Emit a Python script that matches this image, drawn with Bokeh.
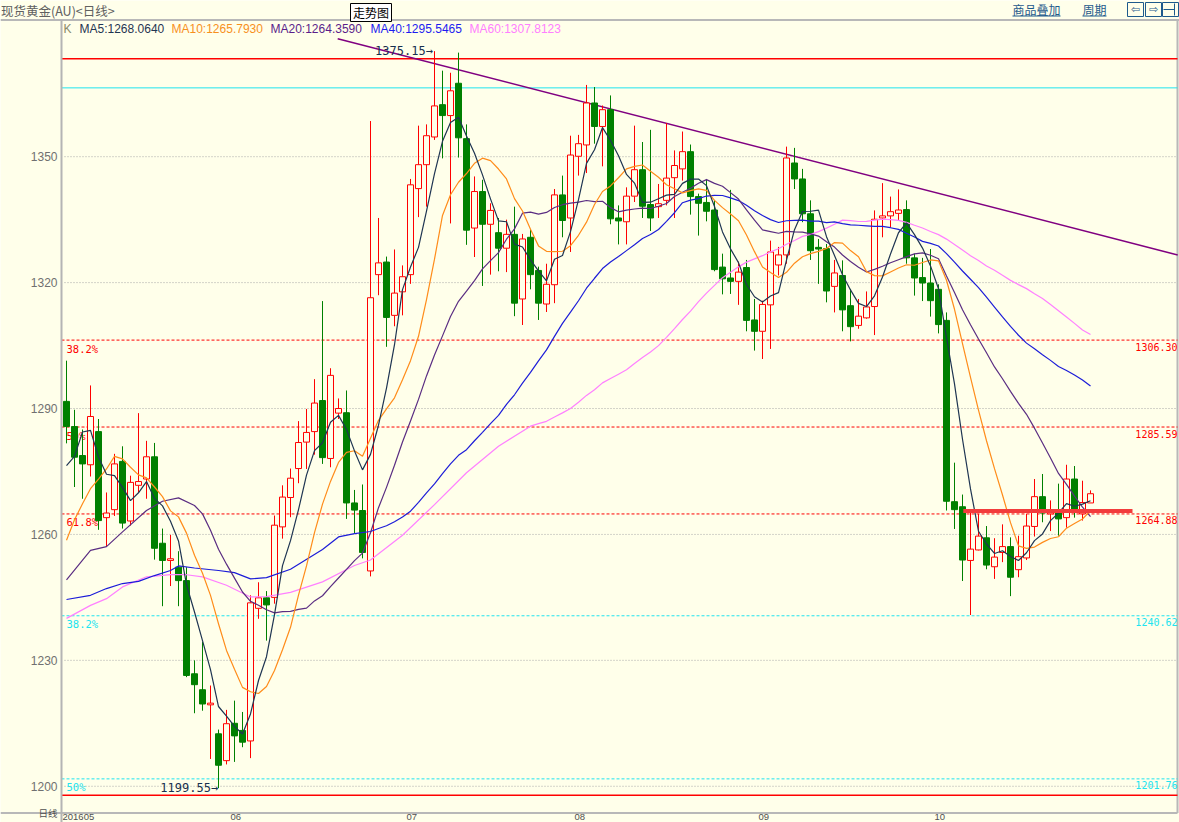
import numpy as np
from bokeh.plotting import figure
from bokeh.models import ColumnDataSource, Range1d, Label, FixedTicker
from bokeh.embed import file_html
from bokeh.resources import INLINE
from bokeh.core.properties import value

# ---------------- data ----------------
opens = [1291.7, 1285.7, 1278.8, 1276.6, 1284.5, 1264.0, 1265.9, 1277.4, 1263.2, 1271.7,
         1273.2, 1278.5, 1257.9, 1253.8, 1252.2, 1249.0, 1226.8, 1223.0, 1219.4, 1212.5,
         1206.1, 1215.0, 1213.3, 1210.8, 1242.4, 1244.9, 1245.0, 1261.8, 1268.8, 1275.7,
         1282.0, 1284.5, 1291.9, 1278.1, 1288.9, 1289.0, 1267.5, 1265.7, 1251.3, 1321.9,
         1324.9, 1312.2, 1317.8, 1321.9, 1342.4, 1348.1, 1354.7, 1362.4, 1359.8, 1367.5,
         1354.3, 1333.0, 1341.7, 1333.9, 1331.9, 1328.2, 1331.5, 1316.1, 1330.8, 1322.9,
         1314.9, 1319.5, 1340.9, 1335.4, 1350.1, 1352.8, 1362.8, 1357.2, 1361.2, 1335.4,
         1334.5, 1340.6, 1346.9, 1338.6, 1338.1, 1339.6, 1345.0, 1347.1, 1351.2, 1340.5,
         1339.1, 1337.3, 1323.7, 1321.1, 1320.3, 1323.6, 1311.1, 1308.4, 1314.7, 1324.2,
         1326.6, 1348.5, 1344.7, 1336.4, 1328.4, 1328.1, 1319.1, 1321.7, 1314.5, 1309.8,
         1311.6, 1314.3, 1335.4, 1335.9, 1336.5, 1337.4, 1325.9, 1321.2, 1319.9, 1318.4,
         1311.0, 1267.8, 1266.6, 1253.8, 1256.3, 1259.2, 1252.3, 1255.7, 1257.1, 1251.6,
         1254.4, 1261.9, 1269.0, 1264.9, 1265.7, 1264.0, 1273.2, 1264.9, 1267.5]
highs = [1301.4, 1289.7, 1285.0, 1295.5, 1287.5, 1270.0, 1279.2, 1281.0, 1274.0, 1288.9,
         1282.3, 1281.8, 1261.4, 1259.9, 1256.0, 1252.2, 1230.0, 1234.4, 1224.0, 1213.5,
         1218.2, 1220.4, 1217.7, 1245.5, 1248.6, 1246.5, 1264.5, 1271.7, 1275.7, 1287.0,
         1289.9, 1297.0, 1315.6, 1299.6, 1292.4, 1294.3, 1270.6, 1271.9, 1358.5, 1335.4,
         1326.2, 1327.9, 1324.1, 1344.7, 1357.4, 1357.7, 1375.15, 1370.5, 1370.0, 1374.8,
         1357.7, 1345.3, 1344.5, 1338.9, 1335.4, 1335.0, 1338.1, 1331.6, 1332.7, 1323.8,
         1324.5, 1342.3, 1345.5, 1355.0, 1355.2, 1367.1, 1366.6, 1362.2, 1364.6, 1338.4,
         1342.7, 1357.4, 1353.5, 1356.4, 1343.5, 1358.0, 1351.5, 1356.0, 1352.9, 1341.2,
         1344.7, 1339.6, 1326.9, 1342.1, 1325.0, 1325.4, 1316.1, 1315.7, 1330.0, 1328.5,
         1352.4, 1352.1, 1347.1, 1339.6, 1330.4, 1329.2, 1325.4, 1325.3, 1318.5, 1316.1,
         1317.9, 1337.2, 1343.7, 1340.5, 1342.2, 1339.6, 1326.9, 1325.9, 1328.0, 1319.6,
         1312.9, 1277.1, 1269.5, 1265.1, 1264.9, 1262.0, 1259.1, 1262.4, 1259.3, 1259.7,
         1264.9, 1273.2, 1274.4, 1268.1, 1272.1, 1276.6, 1276.3, 1272.8, 1270.5]
lows = [1281.7, 1271.3, 1268.5, 1273.8, 1261.1, 1257.0, 1264.4, 1261.4, 1262.1, 1270.0,
        1268.5, 1254.0, 1242.9, 1247.7, 1242.9, 1226.0, 1217.4, 1218.0, 1206.5, 1199.55,
        1205.2, 1205.8, 1209.3, 1206.7, 1239.9, 1234.7, 1243.5, 1259.0, 1264.1, 1272.2,
        1275.6, 1279.0, 1276.8, 1276.0, 1287.5, 1263.7, 1260.3, 1254.3, 1250.0, 1317.0,
        1304.7, 1309.6, 1312.2, 1319.7, 1335.6, 1338.1, 1354.0, 1349.6, 1334.1, 1349.8,
        1329.0, 1326.1, 1319.2, 1321.9, 1322.7, 1322.5, 1312.0, 1309.9, 1318.4, 1311.1,
        1313.0, 1315.1, 1330.8, 1327.3, 1345.5, 1346.1, 1353.1, 1347.7, 1333.9, 1329.1,
        1329.1, 1339.2, 1335.4, 1332.3, 1335.4, 1338.4, 1335.4, 1344.3, 1336.2, 1331.2,
        1334.6, 1322.7, 1317.2, 1317.3, 1314.7, 1308.4, 1303.8, 1301.8, 1304.2, 1321.7,
        1324.5, 1342.3, 1334.4, 1325.4, 1319.7, 1315.3, 1312.9, 1308.4, 1306.0, 1309.0,
        1311.4, 1307.5, 1330.8, 1333.2, 1334.8, 1324.5, 1316.9, 1315.6, 1311.9, 1307.9,
        1265.7, 1261.3, 1248.9, 1240.8, 1256.2, 1251.7, 1249.4, 1253.4, 1245.3, 1249.8,
        1253.9, 1259.5, 1262.9, 1260.8, 1259.7, 1261.6, 1264.0, 1263.3, 1267.5]
closes = [1285.7, 1278.4, 1276.8, 1288.1, 1263.3, 1265.1, 1276.8, 1262.7, 1272.4, 1272.6,
          1278.5, 1256.7, 1253.8, 1254.2, 1249.0, 1226.4, 1224.2, 1219.6, 1219.8, 1205.0,
          1214.9, 1212.0, 1210.5, 1243.7, 1244.9, 1243.2, 1262.2, 1268.9, 1273.4, 1281.9,
          1284.3, 1291.3, 1278.3, 1297.9, 1290.0, 1267.5, 1265.8, 1255.7, 1316.4, 1324.7,
          1311.7, 1317.5, 1321.4, 1343.3, 1348.1, 1355.0, 1362.1, 1359.8, 1365.7, 1354.5,
          1332.5, 1341.7, 1333.9, 1337.2, 1328.2, 1331.5, 1315.1, 1330.4, 1321.9, 1315.1,
          1319.6, 1340.9, 1334.8, 1350.4, 1353.1, 1362.8, 1357.2, 1361.2, 1335.2, 1334.7,
          1340.6, 1346.9, 1338.2, 1335.4, 1338.8, 1344.9, 1347.9, 1351.2, 1340.5, 1338.9,
          1337.0, 1323.1, 1320.9, 1320.3, 1322.5, 1311.0, 1308.4, 1314.8, 1327.3, 1326.6,
          1349.7, 1344.7, 1336.4, 1327.6, 1328.0, 1318.0, 1322.3, 1313.5, 1309.5, 1312.0,
          1314.2, 1335.1, 1335.9, 1336.9, 1337.3, 1325.9, 1321.1, 1319.9, 1315.7, 1310.0,
          1267.9, 1265.9, 1253.9, 1256.5, 1259.6, 1252.7, 1254.6, 1257.1, 1249.8, 1254.7,
          1262.0, 1269.0, 1265.1, 1265.7, 1263.7, 1273.2, 1265.9, 1267.6, 1269.7]

ma5_head_k = [0, 1, 2, 3]
ma5_head_v = [1276.4, 1278.6, 1284.4, 1284.8]
ma10_head_k = [0, 1, 2, 3, 4, 5, 6, 7, 8]
ma10_head_v = [1258.6, 1263.5, 1267.3, 1270.9, 1273.2, 1275.6, 1278.6, 1278.0, 1276.0]
ma20_head_k = [0, 3, 5, 7, 10, 12, 14, 16, 17, 18]
ma20_head_v = [1249.2, 1256.2, 1257.1, 1260.6, 1265.7, 1267.9, 1268.7, 1266.9, 1264.9, 1261.0]
ma40_head_k = [0, 3, 5, 7, 9, 11, 13, 14, 16, 19, 21, 23, 25, 28, 32, 34, 36, 38]
ma40_head_v = [1244.5, 1245.5, 1247.1, 1248.3, 1248.8, 1250.2, 1251.4, 1252.5, 1252.0, 1251.4,
               1250.9, 1249.4, 1249.7, 1251.7, 1256.4, 1259.4, 1260.2, 1260.7]
ma60_head_k = [0, 3, 5, 7, 10, 13, 15, 17, 20, 23, 25, 28, 32, 36, 38, 42, 46, 50, 54, 58]
ma60_head_v = [1240.0, 1243.1, 1244.7, 1247.5, 1249.9, 1250.4, 1250.4, 1249.9, 1247.9, 1245.1,
               1245.2, 1246.2, 1248.7, 1252.6, 1253.9, 1259.8, 1267.1, 1274.7, 1281.0, 1285.8]

month_start_idx = [0, 21, 43, 64, 87, 109]
month_labels = ["201605", "06", "07", "08", "09", "10"]
price_ticks = [1200, 1230, 1260, 1290, 1320, 1350]

fib_red_zero, fib_red_full = 1373.35, 1197.85
fib_red_levels = [1306.30, 1285.59, 1264.88]
fib_red_names = ["38.2%", "50%", "61.8%"]
fib_cyan_zero = 1366.4
fib_cyan_levels = [1240.62, 1201.76]
fib_cyan_names = ["38.2%", "50%"]

trend_k = [33.9, 138.9]
trend_p = [1378.1, 1326.6]
support_k = [112.1, 133.25]
support_p = [1265.6, 1265.6]

hi_idx, hi_val = 46, 1375.15
lo_idx, lo_val = 19, 1199.55

ma_header = [("K", "#8a8a6a"), ("MA5:1268.0640", "#1f3552"), ("MA10:1265.7930", "#f7901e"),
             ("MA20:1264.3590", "#5a1e8a"), ("MA40:1295.5465", "#1c1cf0"),
             ("MA60:1307.8123", "#ff80ff")]

# ---------------- geometry helpers (reference pixel -> data) ----------------
X0_PX, PX_PER_BAR = 66.0, 8.0
Y_REF_PX, Y_REF_P, PX_PER_USD = 156.2, 1350.0, 4.197
W, H = 1179, 822


def kx(px):
    return (px - X0_PX) / PX_PER_BAR


def py(px):
    return Y_REF_P - (px - Y_REF_PX) / PX_PER_USD


BG = "#ffffea"
RED = "#ff0000"
GREEN = "#008000"
CYAN = "#20e4f0"
NAVY = "#17304f"

p = figure(width=W, height=H,
           x_range=Range1d(kx(0), kx(W)), y_range=Range1d(py(H), py(0)),
           output_backend="svg", toolbar_location=None, x_axis_location=None,
           min_border=0, background_fill_color=BG, border_fill_color=BG,
           outline_line_color=None)
p.grid.visible = False

# left price axis
ax = p.yaxis[0]
ax.fixed_location = kx(61)
ax.ticker = FixedTicker(ticks=price_ticks)
ax.bounds = (py(H), py(19))
ax.axis_line_color = "#b4b4b4"
ax.axis_line_width = 2
ax.major_tick_line_color = None
ax.major_tick_out = 0
ax.major_tick_in = 0
ax.minor_tick_line_color = None
ax.major_label_standoff = 4
ax.major_label_text_font = "Liberation Sans"
ax.major_label_text_font_size = "12px"
ax.major_label_text_color = "#707070"

x_left, x_right = kx(61), kx(1177)

# frame lines: header separator, bottom axis line, right border
p.segment(x0=[kx(0)], y0=[py(19.5)], x1=[kx(W)], y1=[py(19.5)], line_color="#b8b8b8", line_width=2)
p.segment(x0=[kx(0)], y0=[py(812.5)], x1=[x_right], y1=[py(812.5)], line_color="#b8b8b8", line_width=2)
p.segment(x0=[x_right], y0=[py(19.5)], x1=[x_right], y1=[py(812.5)], line_color="#b8b8b8", line_width=2)

# dotted price grid
p.segment(x0=[kx(64)] * len(price_ticks), y0=price_ticks, x1=[x_right] * len(price_ticks),
          y1=price_ticks, line_color="#a8a8a8", line_dash="1 2", line_width=1)

# fibonacci levels
p.segment(x0=[x_left] * 2, y0=[fib_red_zero, fib_red_full], x1=[x_right] * 2,
          y1=[fib_red_zero, fib_red_full], line_color=RED, line_width=1.5)
p.segment(x0=[x_left], y0=[fib_cyan_zero], x1=[x_right], y1=[fib_cyan_zero], line_color=CYAN, line_width=1)
p.segment(x0=[x_left] * 3, y0=fib_red_levels, x1=[x_right] * 3, y1=fib_red_levels,
          line_color=RED, line_dash="3 2", line_width=1)
p.segment(x0=[x_left] * 2, y0=fib_cyan_levels, x1=[x_right] * 2, y1=fib_cyan_levels,
          line_color=CYAN, line_dash="3 2", line_width=1)

lbl_drop = 2.5 / PX_PER_USD
p.text(x=[kx(66)] * 3, y=[v - lbl_drop for v in fib_red_levels], text=fib_red_names,
       text_color=RED, text_font=value("DejaVu Sans Mono"), text_font_size="10.5px",
       text_baseline="top", text_align="left")
p.text(x=[kx(1177)] * 3, y=[v - lbl_drop for v in fib_red_levels],
       text=["%.2f" % v for v in fib_red_levels], text_color=RED,
       text_font=value("DejaVu Sans Mono"), text_font_size="10px",
       text_baseline="top", text_align="right")
p.text(x=[kx(66)] * 2, y=[v - lbl_drop for v in fib_cyan_levels], text=fib_cyan_names,
       text_color=CYAN, text_font=value("DejaVu Sans Mono"), text_font_size="10.5px",
       text_baseline="top", text_align="left")
p.text(x=[kx(1177)] * 2, y=[v - lbl_drop for v in fib_cyan_levels],
       text=["%.2f" % v for v in fib_cyan_levels], text_color=CYAN,
       text_font=value("DejaVu Sans Mono"), text_font_size="10px",
       text_baseline="top", text_align="right")

# trend line
p.line(trend_k, trend_p, line_color="#800080", line_width=1.5)

# candles
idx = np.arange(len(closes))
o, h, l, c = (np.array(a) for a in (opens, highs, lows, closes))
up = c >= o
top = np.maximum(o, c)
bot = np.minimum(o, c)
dn_src = ColumnDataSource(dict(x=idx[~up], h=h[~up], l=l[~up], t=top[~up], b=bot[~up]))
up_src = ColumnDataSource(dict(x=idx[up], h=h[up], l=l[up], t=top[up], b=bot[up]))
BW = 0.75
p.segment(x0="x", y0="h", x1="x", y1="l", source=dn_src, line_color=GREEN, line_width=1)
p.vbar(x="x", width=BW, top="t", bottom="b", source=dn_src, fill_color=GREEN, line_color=GREEN, line_width=1)
p.segment(x0="x", y0="h", x1="x", y1="t", source=up_src, line_color=RED, line_width=1)
p.segment(x0="x", y0="b", x1="x", y1="l", source=up_src, line_color=RED, line_width=1)
p.vbar(x="x", width=BW, top="t", bottom="b", source=up_src, fill_color=BG, line_color=RED, line_width=1)


# moving averages
def sma_series(n, head_k, head_v):
    ks = list(head_k)
    vs = list(head_v)
    for i in range(n - 1, len(closes)):
        ks.append(i)
        vs.append(float(np.mean(c[i - n + 1:i + 1])))
    return ks, vs


for n, hk, hv, col in [(60, ma60_head_k, ma60_head_v, "#ff80ff"),
                       (40, ma40_head_k, ma40_head_v, "#1c1cd8"),
                       (20, ma20_head_k, ma20_head_v, "#5a2d82"),
                       (10, ma10_head_k, ma10_head_v, "#ff8c1a"),
                       (5, ma5_head_k, ma5_head_v, "#1f3552")]:
    ks, vs = sma_series(n, hk, hv)
    p.line(ks, vs, line_color=col, line_width=1.2)

# support line
p.line(support_k, support_p, line_color="#f23c3c", line_width=4)

# extreme markers
p.text(x=[hi_idx - 0.2], y=[hi_val], text=["%.2f→" % hi_val], text_color=NAVY,
       text_font=value("DejaVu Sans Mono"), text_font_size="12px",
       text_baseline="middle", text_align="right")
p.text(x=[lo_idx - 0.05], y=[lo_val], text=["%.2f→" % lo_val], text_color=NAVY,
       text_font=value("DejaVu Sans Mono"), text_font_size="12px",
       text_baseline="middle", text_align="right")

# bottom date labels
p.text(x=[i - 0.5 for i in month_start_idx], y=[py(819.5)] * len(month_start_idx), text=month_labels,
       text_color="#505050", text_font=value("Liberation Sans"), text_font_size="9.5px",
       text_baseline="bottom", text_align="left")
p.add_layout(Label(x=kx(57), y=py(819.5), text="日线", text_color="#505050",
                   text_font="Noto Sans CJK SC", text_font_size="9.5px",
                   text_baseline="bottom", text_align="right"))

# MA legend row
hdr_x = [63, 79, 171, 270, 370, 469]
for (txt, col), xx in zip(ma_header, hdr_x):
    p.add_layout(Label(x=kx(xx), y=py(28), text=txt, text_color=col,
                       text_font="Liberation Sans", text_font_size="12px",
                       text_baseline="middle", text_align="left"))

# header strip
p.add_layout(Label(x=kx(0.5), y=py(10), text="现货黄金(AU)<日线>", text_color="#606060",
                   text_font="Noto Sans CJK SC", text_font_size="12.5px",
                   text_baseline="middle", text_align="left"))
p.quad(left=[kx(350)], right=[kx(391)], top=[py(3)], bottom=[py(21)],
       fill_color="white", line_color="black", line_width=1)
p.add_layout(Label(x=kx(370.5), y=py(12), text="走势图", text_color="black",
                   text_font="Noto Sans CJK SC", text_font_size="12px",
                   text_baseline="middle", text_align="center"))
LINK = "#1e5a8c"
for txt, x_a, x_b in [("商品叠加", 1012, 1060), ("周期", 1082, 1106)]:
    p.add_layout(Label(x=kx(x_a), y=py(8.5), text=txt, text_color=LINK,
                       text_font="Noto Sans CJK SC", text_font_size="12px",
                       text_baseline="middle", text_align="left"))
    p.segment(x0=[kx(x_a)], y0=[py(15.5)], x1=[kx(x_b)], y1=[py(15.5)], line_color=LINK, line_width=1)
box_l = [1127, 1145, 1162]
p.quad(left=[kx(v) for v in box_l], right=[kx(v + 16) for v in box_l],
       top=[py(2)] * 3, bottom=[py(16)] * 3, fill_color=None, line_color=LINK, line_width=1)
p.text(x=[kx(1135), kx(1153)], y=[py(9)] * 2, text=["⇦", "⇨"], text_color=LINK,
       text_font=value("DejaVu Sans"), text_font_size="11px",
       text_baseline="middle", text_align="center")
p.segment(x0=[kx(1163)], y0=[py(9)], x1=[kx(1174)], y1=[py(9)], line_color=LINK, line_width=1)
p.segment(x0=[kx(1174)], y0=[py(3)], x1=[kx(1174)], y1=[py(15)], line_color=LINK, line_width=1)

open("out.html", "w").write(file_html(p, INLINE))
